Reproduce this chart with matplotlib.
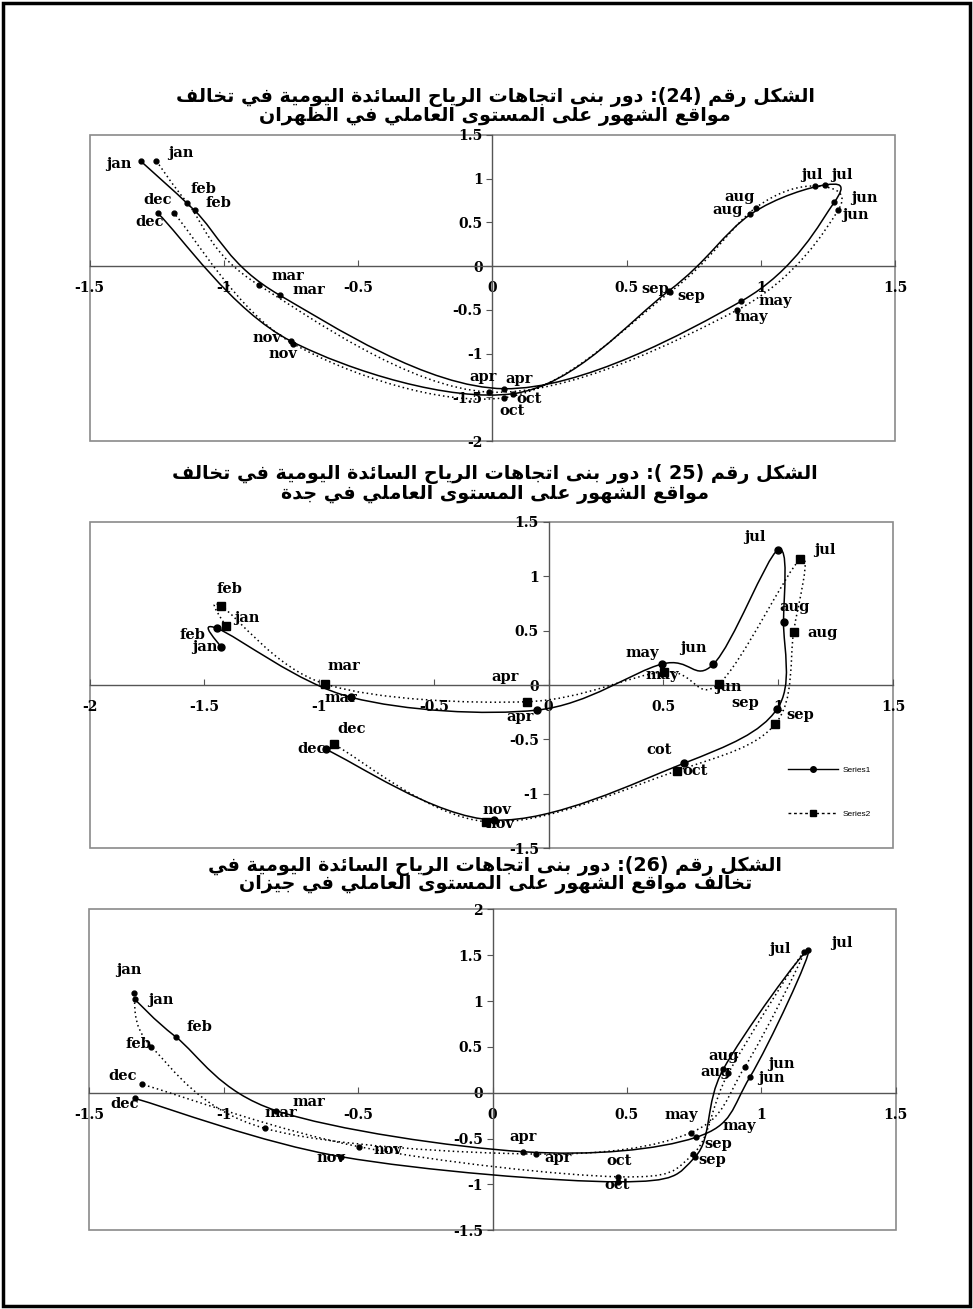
import re
import numpy as np
import matplotlib
matplotlib.use('Agg')
import matplotlib.pyplot as plt
from matplotlib.path import Path
from matplotlib.patches import PathPatch, Rectangle
from matplotlib.lines import Line2D

plt.rcParams['axes.unicode_minus'] = False

months = ['jan', 'feb', 'mar', 'apr', 'may', 'jun',
          'jul', 'aug', 'sep', 'oct', 'nov', 'dec']

# figure 24 - Dhahran
dhahran_s1_x = [-1.310, -1.109, -0.792, 0.044, 0.927, 1.273, 1.238, 0.961, 0.657, 0.077, -0.749, -1.245]
dhahran_s1_y = [1.203, 0.637, -0.332, -1.402, -0.401, 0.729, 0.928, 0.591, -0.283, -1.459, -0.859, 0.603]
dhahran_s2_x = [-1.251, -1.136, -0.869, -0.014, 0.911, 1.288, 1.200, 0.981, 0.663, 0.044, -0.742, -1.185]
dhahran_s2_y = [1.203, 0.725, -0.218, -1.440, -0.504, 0.641, 0.916, 0.668, -0.294, -1.505, -0.887, 0.603]

# figure 25 - Jeddah
jeddah_s1_x = [-1.429, -1.444, -0.860, -0.050, 0.493, 0.718, 0.998, 1.023, 0.994, 0.588, -0.238, -0.972]
jeddah_s1_y = [0.352, 0.521, -0.113, -0.230, 0.193, 0.193, 1.241, 0.582, -0.223, -0.720, -1.241, -0.591]
jeddah_s2_x = [-1.407, -1.429, -0.973, -0.094, 0.501, 0.740, 1.096, 1.067, 0.987, 0.559, -0.271, -0.936]
jeddah_s2_y = [0.542, 0.729, 0.009, -0.153, 0.122, 0.009, 1.155, 0.490, -0.358, -0.788, -1.256, -0.545]
jeddah_s1_labels = ['jan', 'feb', 'mar', 'apr', 'may', 'jun',
                    'jul', 'aug', 'sep', 'cot', 'nov', 'dec']

# figure 26 - Jizan
jizan_s1_x = [-1.331, -1.179, -0.804, 0.114, 0.757, 0.958, 1.175, 0.858, 0.754, 0.467, -0.562, -1.331]
jizan_s1_y = [1.019, 0.611, -0.196, -0.643, -0.486, 0.174, 1.556, 0.255, -0.698, -0.971, -0.698, -0.061]
jizan_s2_x = [-1.335, -1.269, -0.847, 0.161, 0.737, 0.939, 1.159, 0.877, 0.746, 0.467, -0.495, -1.303]
jizan_s2_y = [1.084, 0.502, -0.388, -0.668, -0.436, 0.284, 1.538, 0.212, -0.668, -0.916, -0.589, 0.092]

titles = [
    ['الشكل رقم (24): دور بنى اتجاهات الرياح السائدة اليومية في تخالف',
     'مواقع الشهور على المستوى العاملي في الظهران'],
    ['الشكل رقم (25 ): دور بنى اتجاهات الرياح السائدة اليومية في تخالف',
     'مواقع الشهور على المستوى العاملي في جدة'],
    ['الشكل رقم (26): دور بنى اتجاهات الرياح السائدة اليومية في',
     'تخالف مواقع الشهور على المستوى العاملي في جيزان'],
]

# label offsets in pixels (dx, dy) for each month
dhahran_off1 = [(-22, -3), (24, 7), (29, 5), (15, 10), (34, 0), (30, 4),
                (17, 10), (-23, 4), (-14, 2), (16, -5), (-24, 3), (-8, -9)]
dhahran_off2 = [(24, 8), (16, 14), (29, 9), (-6, 15), (14, -7), (17, -5),
                (-3, 11), (-16, 11), (21, -4), (8, -13), (-10, -10), (-16, 13)]
jeddah_off1 = [(-16, 0), (-25, -7), (-10, -1), (-17, -7), (-20, 11), (-20, 16),
               (-23, 13), (11, 15), (-32, 6), (-25, 13), (3, 10), (-14, 0)]
jeddah_off2 = [(21, 8), (9, 17), (19, 18), (-22, 25), (-1, -3), (10, -3),
               (25, 9), (29, -1), (25, 9), (18, 0), (13, -2), (18, 15)]
jizan_off1 = [(26, -1), (24, 10), (32, 9), (0, 15), (43, 11), (21, -1),
              (33, 7), (0, 13), (17, -3), (-1, -3), (-11, -1), (-10, -6)]
jizan_off2 = [(-5, 23), (-13, 3), (16, 15), (22, -4), (-9, 18), (36, 3),
              (-24, 3), (-13, 1), (25, 10), (1, 16), (28, -3), (-20, 8)]

# arabic presentation forms: isolated, final, initial, medial
FORMS = {
    'ا': ('\ufe8d', '\ufe8e', None, None),
    'ب': ('\ufe8f', '\ufe90', '\ufe91', '\ufe92'),
    'ة': ('\ufe93', '\ufe94', None, None),
    'ت': ('\ufe95', '\ufe96', '\ufe97', '\ufe98'),
    'ج': ('\ufe9d', '\ufe9e', '\ufe9f', '\ufea0'),
    'ح': ('\ufea1', '\ufea2', '\ufea3', '\ufea4'),
    'خ': ('\ufea5', '\ufea6', '\ufea7', '\ufea8'),
    'د': ('\ufea9', '\ufeaa', None, None),
    'ر': ('\ufead', '\ufeae', None, None),
    'ز': ('\ufeaf', '\ufeb0', None, None),
    'س': ('\ufeb1', '\ufeb2', '\ufeb3', '\ufeb4'),
    'ش': ('\ufeb5', '\ufeb6', '\ufeb7', '\ufeb8'),
    'ظ': ('\ufec5', '\ufec6', '\ufec7', '\ufec8'),
    'ع': ('\ufec9', '\ufeca', '\ufecb', '\ufecc'),
    'ف': ('\ufed1', '\ufed2', '\ufed3', '\ufed4'),
    'ق': ('\ufed5', '\ufed6', '\ufed7', '\ufed8'),
    'ك': ('\ufed9', '\ufeda', '\ufedb', '\ufedc'),
    'ل': ('\ufedd', '\ufede', '\ufedf', '\ufee0'),
    'م': ('\ufee1', '\ufee2', '\ufee3', '\ufee4'),
    'ن': ('\ufee5', '\ufee6', '\ufee7', '\ufee8'),
    'ه': ('\ufee9', '\ufeea', '\ufeeb', '\ufeec'),
    'و': ('\ufeed', '\ufeee', None, None),
    'ى': ('\ufeef', '\ufef0', None, None),
    'ي': ('\ufef1', '\ufef2', '\ufef3', '\ufef4'),
    'ئ': ('\ufe89', '\ufe8a', '\ufe8b', '\ufe8c'),
}


def shape_arabic(text):
    out = []
    for i, ch in enumerate(text):
        if ch not in FORMS:
            out.append(ch)
            continue
        prev = text[i - 1] if i > 0 else ''
        nxt = text[i + 1] if i + 1 < len(text) else ''
        iso, fin, ini, med = FORMS[ch]
        join_prev = prev in FORMS and FORMS[prev][2] is not None
        join_next = ini is not None and nxt in FORMS
        if join_prev and join_next:
            out.append(med)
        elif join_prev:
            out.append(fin)
        elif join_next:
            out.append(ini)
        else:
            out.append(iso)
    vis = ''.join(out)[::-1]
    vis = re.sub(r'\d+', lambda m: m.group(0)[::-1], vis)
    return vis.translate(str.maketrans('()', ')('))


def smooth_path(x, y):
    p = np.column_stack([x, y])
    n = len(p)
    verts = [p[0]]
    codes = [Path.MOVETO]
    for i in range(n - 1):
        p0 = p[i - 1] if i > 0 else p[i]
        p3 = p[i + 2] if i + 2 < n else p[i + 1]
        verts += [p[i] + (p[i + 1] - p0) / 6, p[i + 1] - (p3 - p[i]) / 6, p[i + 1]]
        codes += [Path.CURVE4] * 3
    return Path(verts, codes)


def setup_axes(ax, xlim, ylim, step=0.5):
    ax.set_xlim(xlim)
    ax.set_ylim(ylim)
    ax.spines['top'].set_visible(False)
    ax.spines['right'].set_visible(False)
    for side in ['left', 'bottom']:
        ax.spines[side].set_position(('data', 0))
        ax.spines[side].set_color('#555555')
        ax.spines[side].set_linewidth(1.0)
    ax.add_patch(Rectangle((0, 0), 1, 1, transform=ax.transAxes, fill=False,
                           ec='#8a8a8a', lw=1.2, clip_on=False, zorder=0))
    xt = np.arange(xlim[0], xlim[1] + 0.01, step)
    yt = np.arange(ylim[0], ylim[1] + 0.01, step)
    ax.set_xticks(xt)
    ax.set_yticks(yt)
    ax.set_xticklabels(['%g' % v for v in xt])
    ax.set_yticklabels(['%g' % v for v in yt])
    ax.tick_params(axis='x', direction='in', length=4, pad=11, color='#555555')
    ax.tick_params(axis='y', direction='out', length=4, pad=3, color='#555555')
    for lab in ax.get_xticklabels() + ax.get_yticklabels():
        lab.set_fontfamily('DejaVu Serif')
        lab.set_fontweight('bold')
        lab.set_fontsize(10)


def draw_series(ax, x, y, labels, offsets, ls, marker, ms):
    ax.add_patch(PathPatch(smooth_path(x, y), fill=False, ec='black', lw=1.1, ls=ls, zorder=3))
    ax.plot(x, y, ls='none', marker=marker, ms=ms, color='black', zorder=4)
    for xi, yi, lab, off in zip(x, y, labels, offsets):
        ax.annotate(lab, (xi, yi), xytext=off, textcoords='offset pixels',
                    ha='center', va='center', fontsize=10.5, fontweight='bold',
                    family='DejaVu Serif', zorder=5)


fig = plt.figure(figsize=(9.73, 13.09), dpi=100)
fig.patches.append(Rectangle((0.003, 0.002), 0.994, 0.996, transform=fig.transFigure,
                             fill=False, ec='black', lw=2.5))

dot = (0, (1, 2))

ax1 = fig.add_axes([0.092, 0.6631, 0.828, 0.2338])
setup_axes(ax1, (-1.5, 1.5), (-2, 1.5))
draw_series(ax1, dhahran_s1_x, dhahran_s1_y, months, dhahran_off1, '-', 'o', 3.5)
draw_series(ax1, dhahran_s2_x, dhahran_s2_y, months, dhahran_off2, dot, 'o', 3.5)

ax2 = fig.add_axes([0.092, 0.3520, 0.8258, 0.2493])
setup_axes(ax2, (-2, 1.5), (-1.5, 1.5))
draw_series(ax2, jeddah_s1_x, jeddah_s1_y, jeddah_s1_labels, jeddah_off1, '-', 'o', 5)
draw_series(ax2, jeddah_s2_x, jeddah_s2_y, months, jeddah_off2, dot, 's', 5.5)
handles = [Line2D([], [], color='black', lw=1, marker='o', ms=4),
           Line2D([], [], color='black', lw=1, ls=(0, (2, 2)), marker='s', ms=4)]
ax2.legend(handles, ['Series1', 'Series2'], loc='center left', bbox_to_anchor=(0.86, 0.173),
           frameon=False, prop={'family': 'Liberation Sans', 'size': 6},
           labelspacing=4.3, handlelength=6, handletextpad=0.6)

ax3 = fig.add_axes([0.0918, 0.0601, 0.8288, 0.2452])
setup_axes(ax3, (-1.5, 1.5), (-1.5, 2))
draw_series(ax3, jizan_s1_x, jizan_s1_y, months, jizan_off1, '-', 'o', 3.5)
draw_series(ax3, jizan_s2_x, jizan_s2_y, months, jizan_off2, dot, 'o', 3.5)

title_rows = [(97, 117), (474, 494), (866, 885)]
for lines, rows in zip(titles, title_rows):
    for txt, py in zip(lines, rows):
        fig.text(0.509, 1 - py / 1309, shape_arabic(txt), ha='center', va='center',
                 fontsize=13.8, fontweight='bold', family='DejaVu Sans')

fig.savefig('out.png', dpi=100)
